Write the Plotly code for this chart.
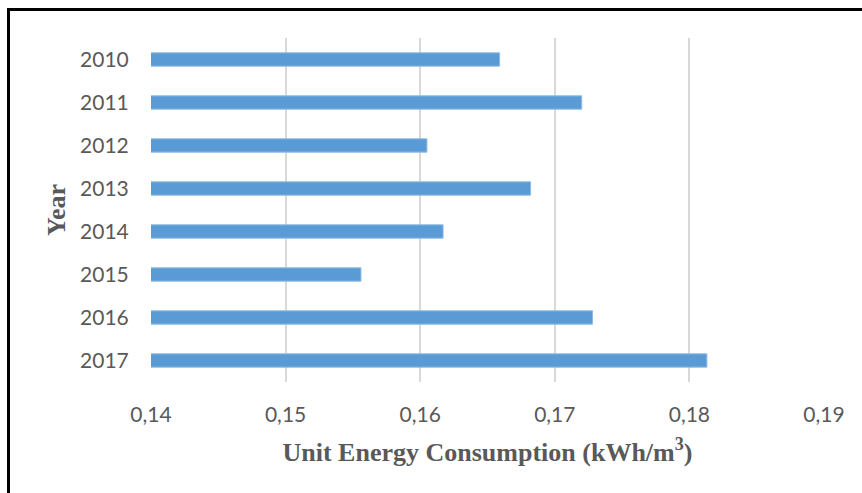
import plotly.graph_objects as go

# Unit energy consumption per year (kWh/m3)
years = ["2010", "2011", "2012", "2013", "2014", "2015", "2016", "2017"]
consumption = [0.1659, 0.1720, 0.1605, 0.1682, 0.1617, 0.1556, 0.1728, 0.1813]
x_ticks = [0.14, 0.15, 0.16, 0.17, 0.18, 0.19]
x_tick_labels = ["0,14", "0,15", "0,16", "0,17", "0,18", "0,19"]

W, H = 862, 493
L, R, T, B = 151, 38, 38, 111

fig = go.Figure(
    go.Bar(
        x=consumption,
        y=years,
        orientation="h",
        width=0.31,
        marker=dict(color="#5B9BD5", line=dict(color="#8DBBE6", width=1)),
    )
)

pw = W - L - R
ph = H - T - B

title_font = dict(family="Liberation Serif", size=26, color="#595959", weight="bold")

fig.update_layout(
    width=W,
    height=H,
    margin=dict(l=L, r=R, t=T, b=B),
    paper_bgcolor="white",
    plot_bgcolor="white",
    showlegend=False,
    font=dict(family="Lato", color="#595959"),
    xaxis=dict(
        range=[0.14, 0.19],
        tickvals=x_ticks,
        ticktext=x_tick_labels,
        showgrid=True,
        gridcolor="#D9D9D9",
        gridwidth=1.5,
        zeroline=False,
        showline=False,
        ticks="outside",
        ticklen=14,
        tickcolor="rgba(0,0,0,0)",
        tickfont=dict(size=21, color="#595959"),
        title=dict(
            text="Unit Energy Consumption (kWh/m<sup>3</sup>)",
            font=title_font,
            standoff=17,
        ),
    ),
    yaxis=dict(
        autorange="reversed",
        showgrid=False,
        zeroline=False,
        showline=False,
        ticks="outside",
        ticklen=17,
        tickcolor="rgba(0,0,0,0)",
        tickfont=dict(size=21, color="#595959"),
        title=dict(
            text="Year",
            font=title_font,
            standoff=6,
        ),
    ),
    shapes=[
        dict(
            type="rect",
            xref="paper",
            yref="paper",
            x0=(8.5 - L) / pw,
            x1=(W + 20 - L) / pw,
            y0=-(B + 20) / ph,
            y1=(H - B - 9.5) / ph,
            line=dict(color="black", width=3),
            layer="above",
        )
    ],
)

fig.write_html("out.html")
